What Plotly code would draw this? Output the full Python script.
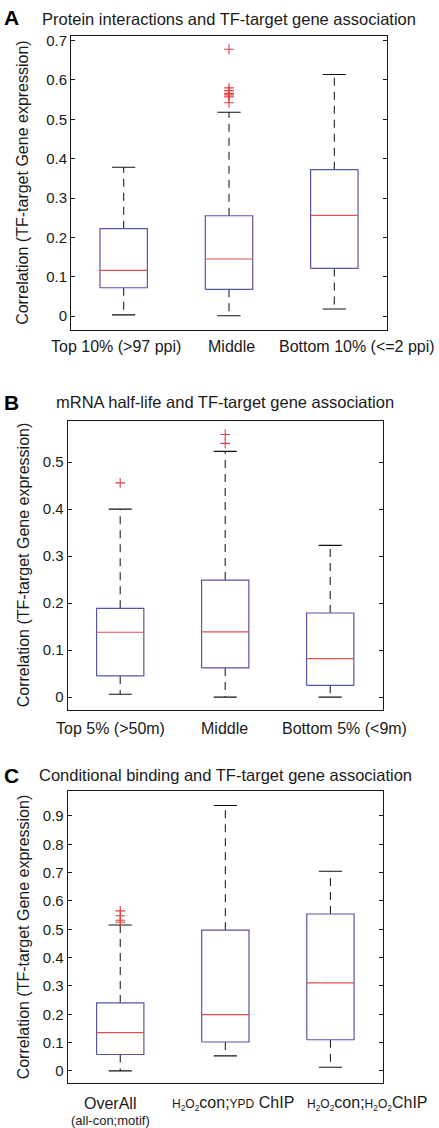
import plotly.graph_objects as go

# ---------------- data ----------------
A_categories = ["Top 10% (>97 ppi)", "Middle", "Bottom 10% (<=2 ppi)"]
A_lower = [0.003, 0.001, 0.018]
A_q1 = [0.072, 0.068, 0.121]
A_median = [0.116, 0.145, 0.256]
A_q3 = [0.222, 0.255, 0.372]
A_upper = [0.378, 0.518, 0.614]
A_outliers = [[], [0.678, 0.580, 0.573, 0.566, 0.562, 0.557, 0.542], []]

B_categories = ["Top 5% (>50m)", "Middle", "Bottom 5% (<9m)"]
B_lower = [0.006, 0.0, 0.0]
B_q1 = [0.045, 0.062, 0.025]
B_median = [0.138, 0.139, 0.082]
B_q3 = [0.189, 0.249, 0.179]
B_upper = [0.400, 0.523, 0.323]
B_outliers = [[0.456], [0.540, 0.559], []]

C_categories = [
    "OverAll",
    "<span style='font-size:12px'>H<sub>2</sub>O<sub>2</sub></span>con;<span style='font-size:12px'>YPD</span> ChIP",
    "<span style='font-size:12px'>H<sub>2</sub>O<sub>2</sub></span>con;<span style='font-size:12px'>H<sub>2</sub>O<sub>2</sub></span>ChIP",
]
C_sublabel = "(all-con;motif)"
C_lower = [0.0, 0.053, 0.013]
C_q1 = [0.058, 0.102, 0.110]
C_median = [0.135, 0.199, 0.311]
C_q3 = [0.240, 0.497, 0.554]
C_upper = [0.515, 0.937, 0.705]
C_outliers = [[0.565, 0.548, 0.532, 0.525], [], []]

titles = [
    "Protein interactions and TF-target gene association",
    "mRNA half-life and TF-target gene association",
    "Conditional binding and TF-target gene association",
]
letters = ["A", "B", "C"]
y_title = "Correlation (TF-target Gene expression)"

# ---------------- style / layout ----------------
W, H = 439, 1128
FONT = "Liberation Sans, Arial, sans-serif"
TXT = "#1a1a1a"
BOX_COLOR = "#5656a6"
MED_COLOR = "#e05050"
OUT_COLOR = "#e04040"
HALF_BOX = 0.225
HALF_CAP = 0.11

# axes box in pixels: (left, right, top, bottom)
panel_px = [(71, 387, 32, 327), (67.7, 382.7, 418.3, 708.3), (67.7, 383, 790, 1083.3)]
y_ranges = [[-0.035, 0.712], [-0.027, 0.588], [-0.0443, 0.9875]]
title_y = [15, 399, 774]
letter_y = [14, 400, 774]
xlabel_y = [344, 727, 1103]
xlabel_px = [[115.5, 231.7, 357], [110, 224, 344], [110, 233, 367]]


def px_x(p):
    return p / W


def px_y(p):
    return 1 - p / H


panels = [
    (A_categories, A_lower, A_q1, A_median, A_q3, A_upper, A_outliers),
    (B_categories, B_lower, B_q1, B_median, B_q3, B_upper, B_outliers),
    (C_categories, C_lower, C_q1, C_median, C_q3, C_upper, C_outliers),
]

fig = go.Figure()
annotations = []
layout_axes = {}

for k, (cats, lo, q1, med, q3, up, outs) in enumerate(panels):
    xa = "x" if k == 0 else f"x{k+1}"
    ya = "y" if k == 0 else f"y{k+1}"
    for i, _ in enumerate(cats):
        xc = i + 1
        # whiskers (dashed)
        fig.add_trace(go.Scatter(x=[xc, xc, None, xc, xc], y=[q3[i], up[i], None, q1[i], lo[i]],
                                 mode="lines", xaxis=xa, yaxis=ya, showlegend=False,
                                 line=dict(color="#222222", width=1.1, dash="8px,6px"), hoverinfo="skip"))
        # caps
        fig.add_trace(go.Scatter(x=[xc - HALF_CAP, xc + HALF_CAP, None, xc - HALF_CAP, xc + HALF_CAP],
                                 y=[up[i], up[i], None, lo[i], lo[i]],
                                 mode="lines", xaxis=xa, yaxis=ya, showlegend=False,
                                 line=dict(color="#111111", width=1.1), hoverinfo="skip"))
        # box
        fig.add_trace(go.Scatter(x=[xc - HALF_BOX, xc + HALF_BOX, xc + HALF_BOX, xc - HALF_BOX, xc - HALF_BOX],
                                 y=[q1[i], q1[i], q3[i], q3[i], q1[i]],
                                 mode="lines", xaxis=xa, yaxis=ya, showlegend=False,
                                 line=dict(color=BOX_COLOR, width=1.2), hoverinfo="skip"))
        # median
        fig.add_trace(go.Scatter(x=[xc - HALF_BOX, xc + HALF_BOX], y=[med[i], med[i]],
                                 mode="lines", xaxis=xa, yaxis=ya, showlegend=False,
                                 line=dict(color=MED_COLOR, width=1.2), hoverinfo="skip"))
        # outliers
        if outs[i]:
            fig.add_trace(go.Scatter(x=[xc] * len(outs[i]), y=outs[i], mode="markers",
                                     xaxis=xa, yaxis=ya, showlegend=False,
                                     marker=dict(symbol="cross-thin", size=7,
                                                 line=dict(color=OUT_COLOR, width=1.1)),
                                     hoverinfo="skip"))
        # category label
        annotations.append(dict(x=px_x(xlabel_px[k][i]), xref="paper", y=px_y(xlabel_y[k]), yref="paper",
                                text=cats[i], showarrow=False,
                                xanchor="center", yanchor="middle",
                                font=dict(family=FONT, size=16, color=TXT)))
    if k == 2:
        annotations.append(dict(x=px_x(xlabel_px[k][0]), xref="paper", y=px_y(1120), yref="paper",
                                text=C_sublabel, showarrow=False,
                                xanchor="center", yanchor="middle",
                                font=dict(family=FONT, size=13, color=TXT)))

    left, right, top, bottom = panel_px[k]
    xkey = "xaxis" if k == 0 else f"xaxis{k+1}"
    ykey = "yaxis" if k == 0 else f"yaxis{k+1}"
    layout_axes[xkey] = dict(domain=[px_x(left), px_x(right)], range=[0.5, 3.5], anchor=ya,
                             showticklabels=False, ticks="", showgrid=False, zeroline=False,
                             showline=True, mirror=True, linecolor="#1a1a1a", linewidth=1)
    layout_axes[ykey] = dict(domain=[px_y(bottom), px_y(top)], range=y_ranges[k], anchor=xa,
                             tick0=0, dtick=0.1, ticks="inside", ticklen=4, tickwidth=1,
                             tickcolor="#1a1a1a", showgrid=False, zeroline=False,
                             showline=True, mirror="allticks", linecolor="#1a1a1a", linewidth=1,
                             tickfont=dict(family=FONT, size=15, color=TXT))
    # title
    annotations.append(dict(x=(px_x(left) + px_x(right)) / 2, xref="paper", y=px_y(title_y[k]), yref="paper",
                            text=titles[k], showarrow=False, xanchor="center", yanchor="middle",
                            font=dict(family=FONT, size=16.5, color=TXT)))
    # panel letter
    annotations.append(dict(x=px_x(2), xref="paper", y=px_y(letter_y[k]), yref="paper",
                            text=f"<b>{letters[k]}</b>", showarrow=False, xanchor="left", yanchor="middle",
                            font=dict(family=FONT, size=21, color="#000000")))
    # y title
    annotations.append(dict(x=px_x(23), xref="paper", y=px_y((top + bottom) / 2), yref="paper",
                            text=y_title, textangle=-90, showarrow=False, xanchor="center", yanchor="middle",
                            font=dict(family=FONT, size=16, color=TXT)))

fig.update_layout(width=W, height=H, autosize=False, margin=dict(l=0, r=0, t=0, b=0),
                  paper_bgcolor="white", plot_bgcolor="white", annotations=annotations,
                  showlegend=False, **layout_axes)

fig.write_html("out.html", config={"displayModeBar": False, "staticPlot": True},
               post_script="document.body.style.margin='0';document.body.style.padding='0';")
